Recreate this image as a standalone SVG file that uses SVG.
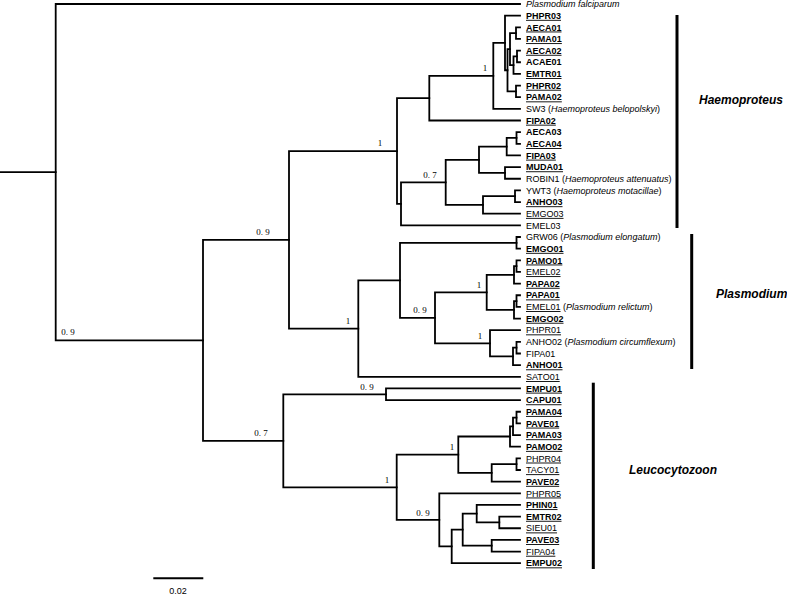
<svg xmlns="http://www.w3.org/2000/svg" width="787" height="595" viewBox="0 0 787 595">
<style>
text{font-family:"Liberation Sans",Arial,sans-serif;font-size:9px;fill:#000}
.b{font-weight:bold;text-decoration:underline}
.bn{font-weight:bold}
.u{text-decoration:underline}
.i{font-style:italic}
.s{font-family:"Liberation Serif","Times New Roman",serif;font-size:9px;fill:#000}
.br{fill:none;stroke:#000;stroke-width:1.8;stroke-linecap:square}
.bar{stroke:#000;stroke-width:3}
.clade{font-size:12px;font-weight:bold;font-style:italic}
</style>
<rect width="787" height="595" fill="#fff"/>
<g id="connectors" class="br">
<path d="M0,172.15 H55.7"/>
<path d="M520,4 H55.7 V340.3 H203"/>
<path d="M289,239.8 H203 V440.8 H283.3"/>
<path d="M397,151.05 H289 V328.55 H358.3"/>
<path d="M429.3,98.2 H397 V203.9 H401"/>
<path d="M493.3,75.9 H429.3 V120.5 H520"/>
<path d="M505,42.9 H493.3 V108.85 H520"/>
<path d="M520,15.65 H505 V70.25 H507.5"/>
<path d="M510,49.15 H507.5 V91.4 H516"/>
<path d="M516,33.1 H510 V65.15 H513.5"/>
<path d="M520,27.3 H516 V38.95 H520"/>
<path d="M517,56.4 H513.5 V73.9 H520"/>
<path d="M520,50.6 H517 V62.25 H520"/>
<path d="M520,85.55 H516 V97.2 H520"/>
<path d="M445.7,182.4 H401 V225.35 H520"/>
<path d="M479,159.8 H445.7 V204.95 H483"/>
<path d="M506.7,146.7 H479 V172.9 H505"/>
<path d="M516.5,137.95 H506.7 V155.45 H520"/>
<path d="M520,132.15 H516.5 V143.8 H520"/>
<path d="M520,167.1 H505 V178.75 H520"/>
<path d="M515,196.2 H483 V213.7 H520"/>
<path d="M520,190.4 H515 V202.05 H520"/>
<path d="M400,280.3 H358.3 V376.8 H520"/>
<path d="M516.5,242.8 H400 V317.85 H435"/>
<path d="M520,237 H516.5 V248.65 H520"/>
<path d="M486.7,292.35 H435 V343.3 H490"/>
<path d="M514,274.85 H486.7 V309.8 H514"/>
<path d="M516.5,266.1 H514 V283.6 H520"/>
<path d="M520,260.3 H516.5 V271.95 H520"/>
<path d="M516.5,301.1 H514 V318.55 H520"/>
<path d="M520,295.25 H516.5 V306.9 H520"/>
<path d="M520,330.2 H490 V356.4 H513"/>
<path d="M516.5,347.7 H513 V365.15 H520"/>
<path d="M520,341.85 H516.5 V353.5 H520"/>
<path d="M386,394.3 H283.3 V487.35 H396.7"/>
<path d="M520,388.45 H386 V400.1 H520"/>
<path d="M458.3,454.7 H396.7 V519.95 H439.3"/>
<path d="M510,436.5 H458.3 V472.9 H491.7"/>
<path d="M513,426.3 H510 V446.7 H520"/>
<path d="M516.5,417.6 H513 V435.05 H520"/>
<path d="M520,411.75 H516.5 V423.4 H520"/>
<path d="M516.5,464.2 H491.7 V481.65 H520"/>
<path d="M520,458.35 H516.5 V470 H520"/>
<path d="M520,493.3 H439.3 V546.45 H451.7"/>
<path d="M462.7,529.7 H451.7 V563.2 H520"/>
<path d="M476.7,513.7 H462.7 V545.7 H491.7"/>
<path d="M520,504.95 H476.7 V522.4 H499.3"/>
<path d="M520,516.6 H499.3 V528.25 H520"/>
<path d="M520,539.9 H491.7 V551.55 H520"/>
</g>
<g id="support">
<text class="s" x="68" y="335" text-anchor="middle">0. 9</text>
<text class="s" x="263" y="235" text-anchor="middle">0. 9</text>
<text class="s" x="380" y="146" text-anchor="middle">1</text>
<text class="s" x="485" y="71" text-anchor="middle">1</text>
<text class="s" x="430" y="178" text-anchor="middle">0. 7</text>
<text class="s" x="348" y="324" text-anchor="middle">1</text>
<text class="s" x="420" y="313" text-anchor="middle">0. 9</text>
<text class="s" x="479" y="288" text-anchor="middle">1</text>
<text class="s" x="480" y="339" text-anchor="middle">1</text>
<text class="s" x="261" y="436" text-anchor="middle">0. 7</text>
<text class="s" x="367" y="390" text-anchor="middle">0. 9</text>
<text class="s" x="387" y="483" text-anchor="middle">1</text>
<text class="s" x="452" y="450" text-anchor="middle">1</text>
<text class="s" x="423" y="516" text-anchor="middle">0. 9</text>
</g>
<g id="leaf-falciparum"><text class="i" x="526" y="7.2">Plasmodium falciparum</text></g>
<g id="leaf-PHPR03"><text class="b" x="526" y="18.85">PHPR03</text></g>
<g id="leaf-AECA01"><text class="b" x="526" y="30.5">AECA01</text></g>
<g id="leaf-PAMA01"><text class="b" x="526" y="42.15">PAMA01</text></g>
<g id="leaf-AECA02"><text class="b" x="526" y="53.8">AECA02</text></g>
<g id="leaf-ACAE01"><text class="bn" x="526" y="65.45">ACAE01</text></g>
<g id="leaf-EMTR01"><text class="b" x="526" y="77.1">EMTR01</text></g>
<g id="leaf-PHPR02"><text class="b" x="526" y="88.75">PHPR02</text></g>
<g id="leaf-PAMA02"><text class="b" x="526" y="100.4">PAMA02</text></g>
<g id="leaf-SW3"><text x="526" y="112.05">SW3 (<tspan class="i">Haemoproteus belopolskyi</tspan>)</text></g>
<g id="leaf-FIPA02"><text class="b" x="526" y="123.7">FIPA02</text></g>
<g id="leaf-AECA03"><text class="bn" x="526" y="135.35">AECA03</text></g>
<g id="leaf-AECA04"><text class="b" x="526" y="147">AECA04</text></g>
<g id="leaf-FIPA03"><text class="b" x="526" y="158.65">FIPA03</text></g>
<g id="leaf-MUDA01"><text class="b" x="526" y="170.3">MUDA01</text></g>
<g id="leaf-ROBIN1"><text x="526" y="181.95">ROBIN1 (<tspan class="i">Haemoproteus attenuatus</tspan>)</text></g>
<g id="leaf-YWT3"><text x="526" y="193.6">YWT3 (<tspan class="i">Haemoproteus motacillae</tspan>)</text></g>
<g id="leaf-ANHO03"><text class="b" x="526" y="205.25">ANHO03</text></g>
<g id="leaf-EMGO03"><text class="u" x="526" y="216.9">EMGO03</text></g>
<g id="leaf-EMEL03"><text x="526" y="228.55">EMEL03</text></g>
<g id="leaf-GRW06"><text x="526" y="240.2">GRW06 (<tspan class="i">Plasmodium elongatum</tspan>)</text></g>
<g id="leaf-EMGO01"><text class="b" x="526" y="251.85">EMGO01</text></g>
<g id="leaf-PAMO01"><text class="b" x="526" y="263.5">PAMO01</text></g>
<g id="leaf-EMEL02"><text class="u" x="526" y="275.15">EMEL02</text></g>
<g id="leaf-PAPA02"><text class="b" x="526" y="286.8">PAPA02</text></g>
<g id="leaf-PAPA01"><text class="b" x="526" y="298.45">PAPA01</text></g>
<g id="leaf-EMEL01"><text x="526" y="310.1"><tspan class="u">EMEL01</tspan> (<tspan class="i">Plasmodium relictum</tspan>)</text></g>
<g id="leaf-EMGO02"><text class="b" x="526" y="321.75">EMGO02</text></g>
<g id="leaf-PHPR01"><text class="u" x="526" y="333.4">PHPR01</text></g>
<g id="leaf-ANHO02"><text x="526" y="345.05">ANHO02 (<tspan class="i">Plasmodium circumflexum</tspan>)</text></g>
<g id="leaf-FIPA01"><text x="526" y="356.7">FIPA01</text></g>
<g id="leaf-ANHO01"><text class="b" x="526" y="368.35">ANHO01</text></g>
<g id="leaf-SATO01"><text class="u" x="526" y="380">SATO01</text></g>
<g id="leaf-EMPU01"><text class="b" x="526" y="391.65">EMPU01</text></g>
<g id="leaf-CAPU01"><text class="b" x="526" y="403.3">CAPU01</text></g>
<g id="leaf-PAMA04"><text class="b" x="526" y="414.95">PAMA04</text></g>
<g id="leaf-PAVE01"><text class="b" x="526" y="426.6">PAVE01</text></g>
<g id="leaf-PAMA03"><text class="b" x="526" y="438.25">PAMA03</text></g>
<g id="leaf-PAMO02"><text class="b" x="526" y="449.9">PAMO02</text></g>
<g id="leaf-PHPR04"><text class="u" x="526" y="461.55">PHPR04</text></g>
<g id="leaf-TACY01"><text class="u" x="526" y="473.2">TACY01</text></g>
<g id="leaf-PAVE02"><text class="b" x="526" y="484.85">PAVE02</text></g>
<g id="leaf-PHPR05"><text class="u" x="526" y="496.5">PHPR05</text></g>
<g id="leaf-PHIN01"><text class="b" x="526" y="508.15">PHIN01</text></g>
<g id="leaf-EMTR02"><text class="b" x="526" y="519.8">EMTR02</text></g>
<g id="leaf-SIEU01"><text class="u" x="526" y="531.45">SIEU01</text></g>
<g id="leaf-PAVE03"><text class="b" x="526" y="543.1">PAVE03</text></g>
<g id="leaf-FIPA04"><text class="u" x="526" y="554.75">FIPA04</text></g>
<g id="leaf-EMPU02"><text class="b" x="526" y="566.4">EMPU02</text></g>
<g id="clade-Haemoproteus"><line class="bar" x1="677" y1="15" x2="677" y2="228"/><text class="clade" x="699" y="103.5">Haemoproteus</text></g>
<g id="clade-Plasmodium"><line class="bar" x1="691.7" y1="234" x2="691.7" y2="369"/><text class="clade" x="716" y="297.5">Plasmodium</text></g>
<g id="clade-Leucocytozoon"><line class="bar" x1="593.3" y1="382.7" x2="593.3" y2="569"/><text class="clade" x="629" y="474">Leucocytozoon</text></g>
<g id="scale-bar"><line x1="153.3" y1="578.3" x2="203.3" y2="578.3" stroke="#000" stroke-width="2"/><text x="178" y="594" text-anchor="middle">0.02</text></g>
</svg>
